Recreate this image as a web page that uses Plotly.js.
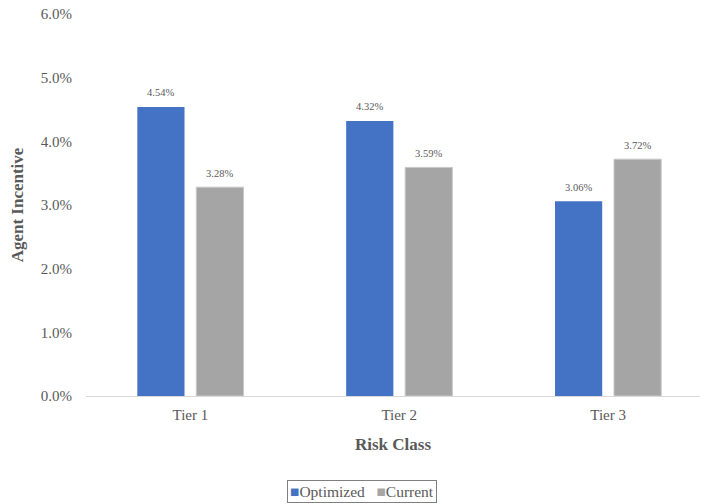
<!DOCTYPE html>
<html>
<head>
<meta charset="utf-8">
<script src="https://cdn.plot.ly/plotly-3.0.1.min.js"></script>
<style>
  html, body { margin: 0; padding: 0; background: #fff; }
  #chart { width: 701px; height: 504px; }
</style>
</head>
<body>
<div id="chart"></div>
<script>
// Agent incentive by risk class, optimized vs current
const categories = ['Tier 1', 'Tier 2', 'Tier 3'];
const optimized = [0.0454, 0.0432, 0.0306];
const current = [0.0328, 0.0359, 0.0372];
const yTicks = [0, 0.01, 0.02, 0.03, 0.04, 0.05, 0.06];
const seriesNames = ['Optimized', 'Current'];
const seriesColors = ['#4472C4', '#A5A5A5'];

const serif = 'Liberation Serif';
const grey = '#595959';

function fmt(v) { return (v * 100).toFixed(2) + '%'; }

const traces = [
  {
    type: 'bar', name: seriesNames[0], x: categories, y: optimized,
    marker: { color: seriesColors[0] }, showlegend: false
  },
  {
    type: 'bar', name: seriesNames[1], x: categories, y: current,
    marker: { color: seriesColors[1], line: { color: '#C8C8C8', width: 1 } }, showlegend: false
  }
];

// value labels above each bar, shifted to the bar's slot within the group
const offsetPx = 29.5;
const annotations = [];
[optimized, current].forEach((vals, s) => {
  vals.forEach((v, i) => {
    annotations.push({
      x: categories[i], y: v, xref: 'x', yref: 'y',
      xshift: s === 0 ? -offsetPx : offsetPx, yshift: 14,
      text: fmt(v), showarrow: false, yanchor: 'middle',
      font: { family: serif, size: 10.5, color: grey }
    });
  });
});

// compact boxed legend below the axis title
annotations.push({
  xref: 'paper', yref: 'paper', x: 0.4495, y: -0.249,
  xanchor: 'center', yanchor: 'middle', showarrow: false,
  text: seriesNames.map((n, i) =>
    '<span style="color:' + seriesColors[i] + '">■</span>' + n).join('   '),
  font: { family: serif, size: 15.5, color: grey },
  bordercolor: '#7F7F7F', borderwidth: 1, borderpad: 2, bgcolor: '#fff'
});

const layout = {
  width: 701, height: 504,
  margin: { l: 86, r: 1, t: 14, b: 108 },
  paper_bgcolor: '#fff', plot_bgcolor: '#fff',
  font: { family: serif, color: grey, size: 14 },
  barmode: 'group', bargap: 0.435, bargroupgap: 0.2,
  showlegend: false,
  annotations: annotations,
  xaxis: {
    range: [-0.5, 2.44],
    showline: true, linecolor: '#D9D9D9', linewidth: 1,
    ticks: '', showgrid: false, zeroline: false,
    ticklabelstandoff: 5,
    tickfont: { family: serif, size: 15, color: grey },
    title: { text: 'Risk Class', font: { family: serif, size: 17, color: grey, weight: 'bold' }, standoff: 16 }
  },
  yaxis: {
    range: [0, 0.06], tickvals: yTicks, tickformat: '.1%',
    showline: false, showgrid: false, zeroline: false, ticks: '',
    ticklabelstandoff: 13,
    tickfont: { family: serif, size: 15, color: grey },
    title: { text: 'Agent Incentive', font: { family: serif, size: 17, color: grey, weight: 'bold' }, standoff: 12 }
  }
};

Plotly.newPlot('chart', traces, layout, { displayModeBar: false, staticPlot: true });
</script>
</body>
</html>
